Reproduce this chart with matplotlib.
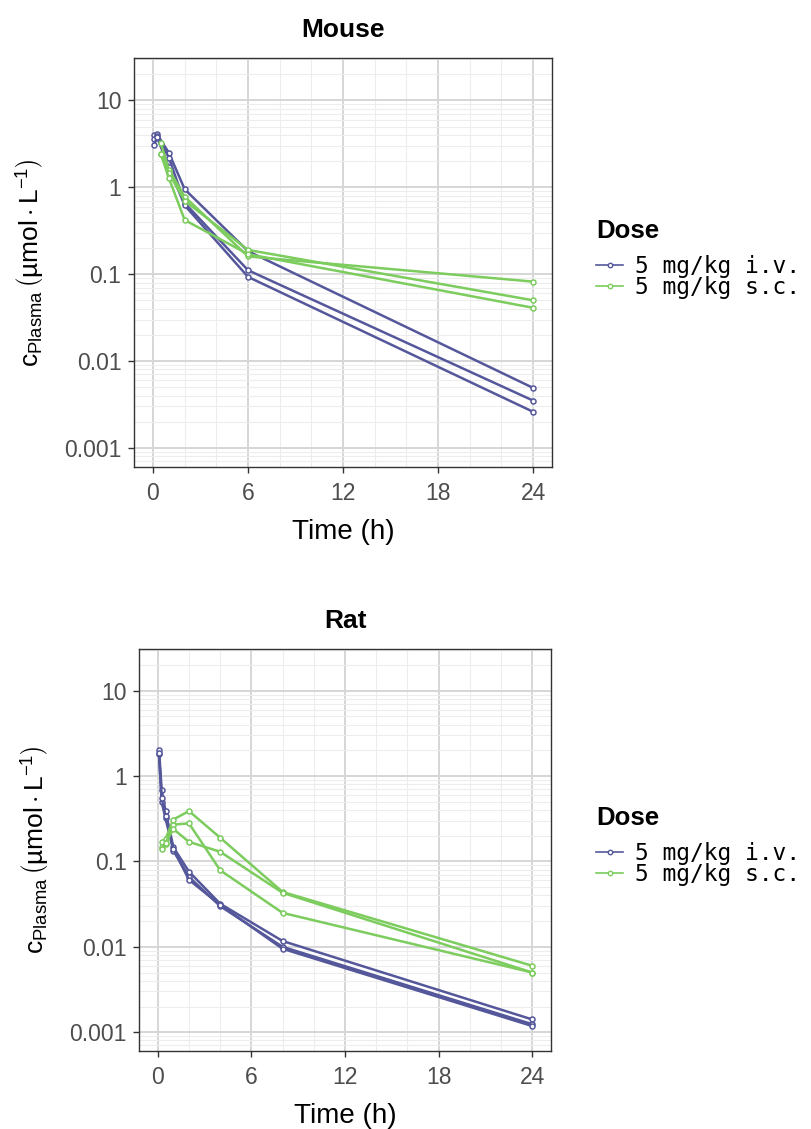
import matplotlib
matplotlib.use('Agg')
from matplotlib import pyplot as plt
from matplotlib.lines import Line2D
from matplotlib.ticker import FixedLocator, NullFormatter, FixedFormatter

plt.rcParams['font.family'] = ['Liberation Sans', 'DejaVu Sans']
plt.rcParams['mathtext.fontset'] = 'custom'
plt.rcParams['mathtext.rm'] = 'Liberation Sans'
plt.rcParams['mathtext.it'] = 'Liberation Sans:italic'
plt.rcParams['mathtext.bf'] = 'Liberation Sans:bold'

_iv_color = '#55579b'
_sc_color = '#7ccc5e'
_dose_labels = ['5 mg/kg i.v.', '5 mg/kg s.c.']

# mouse, concentrations in umol/L, one row per animal
mouse_iv_time = [0.083, 0.25, 1, 2, 6, 24]
mouse_iv_conc = [
    [4.0, 4.1, 2.5, 0.95, 0.184, 0.0049],
    [3.6, 3.9, 2.2, 0.66, 0.111, 0.0035],
    [3.1, 3.8, 1.7, 0.62, 0.093, 0.0026],
]
mouse_sc_time = [0.5, 1, 2, 6, 24]
mouse_sc_conc = [
    [3.2, 1.6, 0.78, 0.16, 0.082],
    [2.4, 1.45, 0.70, 0.19, 0.050],
    [2.4, 1.28, 0.42, 0.17, 0.041],
]

# rat
rat_iv_time = [0.083, 0.25, 0.5, 1, 2, 4, 8, 24]
rat_iv_conc = [
    [2.05, 0.69, 0.39, 0.147, 0.076, 0.032, 0.0117, 0.00141],
    [1.82, 0.50, 0.32, 0.134, 0.066, 0.030, 0.0100, 0.00124],
    [1.85, 0.55, 0.34, 0.140, 0.061, 0.031, 0.0095, 0.00118],
]
rat_sc_time = [0.25, 0.5, 1, 2, 4, 8, 24]
rat_sc_conc = [
    [0.168, 0.184, 0.31, 0.39, 0.19, 0.044, 0.0060],
    [0.147, 0.160, 0.27, 0.28, 0.079, 0.025, 0.0050],
    [0.140, 0.165, 0.24, 0.17, 0.13, 0.043, 0.0050],
]

y_ticks = [0.001, 0.01, 0.1, 1, 10]
y_tick_labels = ['0.001', '0.01', '0.1', '1', '10']
x_ticks = [0, 6, 12, 18, 24]


def draw_series(ax, times, conc_rows, color):
    for row in conc_rows:
        ax.plot(times, row, color=color, linewidth=1.8, marker='o', markersize=3.6,
                markerfacecolor='white', markeredgecolor=color, markeredgewidth=1.1, zorder=3)


def style_panel(ax, title):
    ax.set_yscale('log')
    ax.set_xlim(-1.2, 25.2)
    ax.set_ylim(10**-3.22, 10**1.49)
    ax.yaxis.set_major_locator(FixedLocator(y_ticks))
    ax.yaxis.set_major_formatter(FixedFormatter(y_tick_labels))
    minor_y = [m * 10.0**e for e in range(-4, 2) for m in range(2, 10)]
    ax.yaxis.set_minor_locator(FixedLocator(minor_y))
    ax.yaxis.set_minor_formatter(NullFormatter())
    ax.xaxis.set_major_locator(FixedLocator(x_ticks))
    ax.xaxis.set_minor_locator(FixedLocator([2, 4, 8, 10, 14, 16, 20, 22]))
    ax.grid(which='major', color='#d6d6d6', linewidth=1.4, zorder=0)
    ax.grid(which='minor', color='#ededed', linewidth=0.8, zorder=0)
    ax.set_axisbelow(True)
    for spine in ax.spines.values():
        spine.set_color('#333333')
        spine.set_linewidth(1.0)
    ax.tick_params(which='major', direction='out', length=4, width=1.0, color='#333333',
                   labelsize=16.5, labelcolor='#4d4d4d', pad=5)
    ax.tick_params(axis='x', which='major', pad=7)
    ax.tick_params(which='minor', length=0)
    ax.set_title(title, fontsize=19, fontweight='bold', pad=15)
    ax.set_xlabel('Time (h)', fontsize=20, labelpad=10)
    ax.set_ylabel(r'$\mathrm{c}_{\mathrm{Plasma}}\,\left(\mathrm{µmol\cdot L^{-1}}\right)$',
                  fontsize=19, labelpad=12)


def add_legend(fig, y_title, y_rows):
    fig.text(596 / 812, 1 - y_title / 1129, 'Dose', fontsize=18.5, fontweight='bold',
             ha='left', va='center')
    handles = [
        Line2D([], [], color=_iv_color, linewidth=1.2, marker='o', markersize=3.2,
               markerfacecolor='white', markeredgecolor=_iv_color),
        Line2D([], [], color=_sc_color, linewidth=1.2, marker='o', markersize=3.2,
               markerfacecolor='white', markeredgecolor=_sc_color),
    ]
    leg = fig.legend(handles, _dose_labels, loc='center left',
                     bbox_to_anchor=(596 / 812, 1 - y_rows / 1129), frameon=False,
                     prop={'family': 'DejaVu Sans Mono', 'size': 16.5},
                     handlelength=1.2, handletextpad=0.5, labelspacing=-0.1,
                     borderaxespad=0, borderpad=0)
    return leg


fig = plt.figure(figsize=(8.12, 11.29), dpi=100)
ax_mouse = fig.add_axes([0.165, 0.5864, 0.515, 0.3623])
ax_rat = fig.add_axes([0.1712, 0.0691, 0.5074, 0.3561])

draw_series(ax_mouse, mouse_iv_time, mouse_iv_conc, _iv_color)
draw_series(ax_mouse, mouse_sc_time, mouse_sc_conc, _sc_color)
style_panel(ax_mouse, 'Mouse')

draw_series(ax_rat, rat_iv_time, rat_iv_conc, _iv_color)
draw_series(ax_rat, rat_sc_time, rat_sc_conc, _sc_color)
style_panel(ax_rat, 'Rat')

add_legend(fig, 231, 277)
add_legend(fig, 818, 864)

fig.savefig('out.png', dpi=100)
plt.close()
